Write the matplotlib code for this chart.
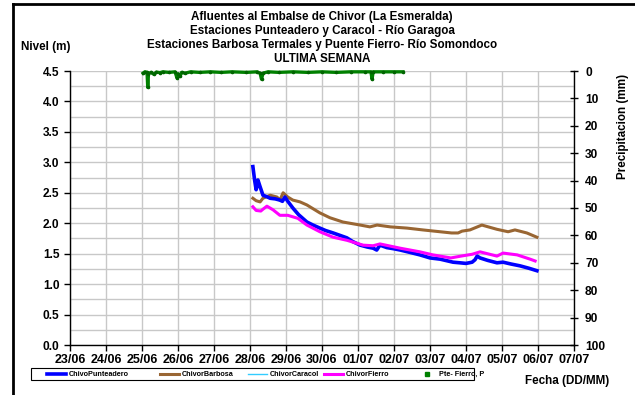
import matplotlib
matplotlib.use("Agg")
import matplotlib.pyplot as plt
from matplotlib.lines import Line2D
from matplotlib.patches import Rectangle
from matplotlib.ticker import MultipleLocator, FixedLocator, FormatStrFormatter

plt.rcParams['font.family'] = ['Liberation Sans', 'DejaVu Sans']
plt.rcParams['font.weight'] = 'bold'

# ---- data (x = days since 23/06 00:00) ----
date_labels = ['23/06', '24/06', '25/06', '26/06', '27/06', '28/06', '29/06', '30/06',
               '01/07', '02/07', '03/07', '04/07', '05/07', '06/07', '07/07']

punteadero_t = [5.08, 5.13, 5.17, 5.20, 5.22, 5.28, 5.36, 5.45, 5.56, 5.70, 5.83, 5.90, 5.97,
                6.05, 6.19, 6.35, 6.58, 6.75, 6.94, 7.10, 7.31, 7.50, 7.69, 7.85, 8.06, 8.25,
                8.42, 8.52, 8.61, 8.80, 9.00, 9.17, 9.45, 9.72, 10.00, 10.28, 10.64, 10.83,
                11.00, 11.17, 11.25, 11.31, 11.39, 11.60, 11.86, 12.03, 12.25, 12.50, 12.75, 12.97]
punteadero_v = [2.93, 2.70, 2.55, 2.62, 2.71, 2.60, 2.46, 2.44, 2.41, 2.40, 2.38, 2.36, 2.43,
                2.36, 2.25, 2.14, 2.02, 1.97, 1.92, 1.88, 1.84, 1.80, 1.76, 1.70, 1.64, 1.61,
                1.59, 1.56, 1.64, 1.60, 1.58, 1.56, 1.52, 1.48, 1.43, 1.41, 1.36, 1.35,
                1.34, 1.36, 1.40, 1.46, 1.43, 1.39, 1.35, 1.36, 1.33, 1.30, 1.26, 1.22]

barbosa_t = [5.08, 5.17, 5.28, 5.36, 5.56, 5.75, 5.83, 5.92, 6.05, 6.19, 6.39, 6.58, 6.94,
             7.22, 7.58, 8.06, 8.33, 8.53, 8.90, 9.36, 9.80, 10.28, 10.60, 10.78, 10.89,
             11.11, 11.44, 11.86, 12.17, 12.36, 12.69, 12.97]
barbosa_v = [2.41, 2.37, 2.35, 2.41, 2.46, 2.43, 2.38, 2.50, 2.43, 2.38, 2.35, 2.30, 2.17,
             2.09, 2.02, 1.97, 1.94, 1.97, 1.94, 1.92, 1.89, 1.86, 1.84, 1.84, 1.87,
             1.89, 1.97, 1.90, 1.86, 1.89, 1.84, 1.77]

caracol_t = []
caracol_v = []

fierro_t = [5.08, 5.17, 5.30, 5.36, 5.47, 5.64, 5.83, 6.05, 6.33, 6.58, 6.94, 7.31, 7.69,
            8.14, 8.42, 8.61, 9.17, 9.72, 10.08, 10.58, 10.86, 11.17, 11.39, 11.86, 12.03,
            12.42, 12.78, 12.92]
fierro_v = [2.27, 2.21, 2.20, 2.23, 2.28, 2.22, 2.13, 2.13, 2.08, 1.97, 1.86, 1.77, 1.72,
            1.64, 1.63, 1.66, 1.59, 1.53, 1.48, 1.43, 1.46, 1.49, 1.53, 1.46, 1.51,
            1.48, 1.41, 1.38]

precip_t = [2.03, 2.08, 2.14, 2.16, 2.18, 2.25, 2.33, 2.40, 2.50, 2.58, 2.75, 2.92, 2.97,
            3.00, 3.05, 3.10, 3.20, 3.35, 3.60, 3.90, 4.20, 4.50, 4.90, 5.20, 5.28, 5.32,
            5.36, 5.50, 5.80, 6.20, 6.60, 7.00, 7.40, 7.80, 8.20, 8.36, 8.39, 8.42, 8.70,
            9.00, 9.25]
precip_v = [0.8, 0.3, 0.5, 6.0, 1.0, 0.5, 1.2, 0.4, 0.6, 0.3, 0.5, 0.3, 2.5,
            1.0, 2.0, 0.5, 0.8, 0.3, 0.5, 0.3, 0.5, 0.3, 0.5, 0.3, 0.8, 3.0,
            0.8, 0.3, 0.5, 0.3, 0.5, 0.3, 0.5, 0.3, 0.3, 0.3, 3.0, 0.3, 0.3,
            0.3, 0.3]

series_names = ['ChivoPunteadero', 'ChivorBarbosa', 'ChivorCaracol', 'ChivorFierro', 'Pte- Fierro, P']
series_colors = ['#0000FF', '#996633', '#33CCFF', '#FF00FF', '#008000']
series_lw = [2.6, 2.2, 1.0, 2.2, 0]

title_lines = ['Afluentes al Embalse de Chivor (La Esmeralda)',
               'Estaciones Punteadero y Caracol - Río Garagoa',
               'Estaciones Barbosa Termales y Puente Fierro- Río Somondoco',
               'ULTIMA SEMANA']

# ---- figure ----
W, H = 635, 395
fig = plt.figure(figsize=(W / 100, H / 100), dpi=100)
fig.patch.set_facecolor('white')

L, R, T, B = 70, 574, 71, 345
ax = fig.add_axes([L / W, 1 - B / H, (R - L) / W, (B - T) / H])

grid_c = '#c8c8c8'
ax.set_xlim(0, len(date_labels) - 1)
ax.set_ylim(0, 4.5)
ax.xaxis.set_major_locator(FixedLocator(range(len(date_labels))))
ax.set_xticklabels(date_labels)
ax.yaxis.set_major_locator(MultipleLocator(0.5))
ax.yaxis.set_minor_locator(MultipleLocator(0.25))
ax.yaxis.set_major_formatter(FormatStrFormatter('%.1f'))
ax.grid(True, which='both', axis='y', color=grid_c, lw=1.0)
ax.grid(True, which='major', axis='x', color=grid_c, lw=1.0)
ax.set_axisbelow(True)
ax.tick_params(axis='y', which='minor', length=0)
ax.tick_params(axis='y', which='major', labelsize=8.6, length=4, width=1, color='black')
ax.tick_params(axis='x', which='major', labelsize=9, length=4, width=1, color='black', pad=2.5)
for lbl in ax.get_xticklabels() + ax.get_yticklabels():
    lbl.set_fontweight('bold')
for s in ['left', 'bottom']:
    ax.spines[s].set_color('black')
    ax.spines[s].set_linewidth(1.0)
ax.spines['top'].set_visible(False)
ax.spines['right'].set_visible(False)

ax.plot(punteadero_t, punteadero_v, color=series_colors[0], lw=series_lw[0], zorder=4)
ax.plot(barbosa_t, barbosa_v, color=series_colors[1], lw=series_lw[1], zorder=3)
ax.plot(caracol_t, caracol_v, color=series_colors[2], lw=series_lw[2], zorder=3)
ax.plot(fierro_t, fierro_v, color=series_colors[3], lw=series_lw[3], zorder=5)

ax2 = ax.twinx()
ax2.set_ylim(100, 0)
ax2.yaxis.set_major_locator(MultipleLocator(10))
ax2.tick_params(axis='y', labelsize=8.6, direction='inout', length=6, width=1, pad=5)
for lbl in ax2.get_yticklabels():
    lbl.set_fontweight('bold')
for s in ['left', 'top', 'bottom']:
    ax2.spines[s].set_visible(False)
ax2.spines['right'].set_color('black')
ax2.spines['right'].set_linewidth(1.0)
ax2.plot(precip_t, precip_v, color=series_colors[4], lw=2.4, marker='o', ms=1.6,
         mfc='#006400', mec='#006400', clip_on=False, zorder=5)

# ---- texts ----
cx = (L + R) / 2 / W
for i, t in enumerate(title_lines):
    fig.text(cx, 1 - (17 + 14 * i) / H, t, ha='center', va='center', fontsize=8.4, fontweight='bold')
fig.text(21 / W, 1 - 47 / H, 'Nivel (m)', ha='left', va='center', fontsize=8.4, fontweight='bold')
fig.text(623 / W, 1 - 126 / H, 'Precipitacion (mm)', ha='center', va='center', rotation=90,
         fontsize=8.4, fontweight='bold')
fig.text(567 / W, 1 - 381 / H, 'Fecha (DD/MM)', ha='center', va='center', fontsize=8.4, fontweight='bold')

# ---- legend (manual, Excel-like) ----
leg_x0, leg_x1, leg_y0, leg_y1 = 31, 474, 368, 380
fig.add_artist(Rectangle((leg_x0 / W, 1 - leg_y1 / H), (leg_x1 - leg_x0) / W, (leg_y1 - leg_y0) / H,
                         transform=fig.transFigure, facecolor='white', edgecolor='black', lw=0.8))
item_x = [47, 160, 248, 324, 417]
ly = 1 - 374 / H
for i, name in enumerate(series_names):
    x0 = item_x[i]
    if series_lw[i] > 0:
        fig.add_artist(Line2D([x0 / W, (x0 + 19) / W], [ly, ly], color=series_colors[i],
                              lw=series_lw[i], transform=fig.transFigure))
    else:
        fig.add_artist(Line2D([(x0 + 9.5) / W], [ly], color=series_colors[i], lw=0, marker='s',
                              ms=2.2, transform=fig.transFigure))
    fig.text((x0 + 22) / W, ly, name, ha='left', va='center', fontsize=5.2, fontweight='bold')

# ---- outer frame (cropped) ----
fig.add_artist(Line2D([13 / W, 13 / W], [0, 1 - 4 / H], color='black', lw=2.0,
                      transform=fig.transFigure))
fig.add_artist(Line2D([13 / W, 1], [1 - 4 / H, 1 - 4 / H], color='black', lw=2.0,
                      transform=fig.transFigure))

fig.savefig('out.png', dpi=100)
